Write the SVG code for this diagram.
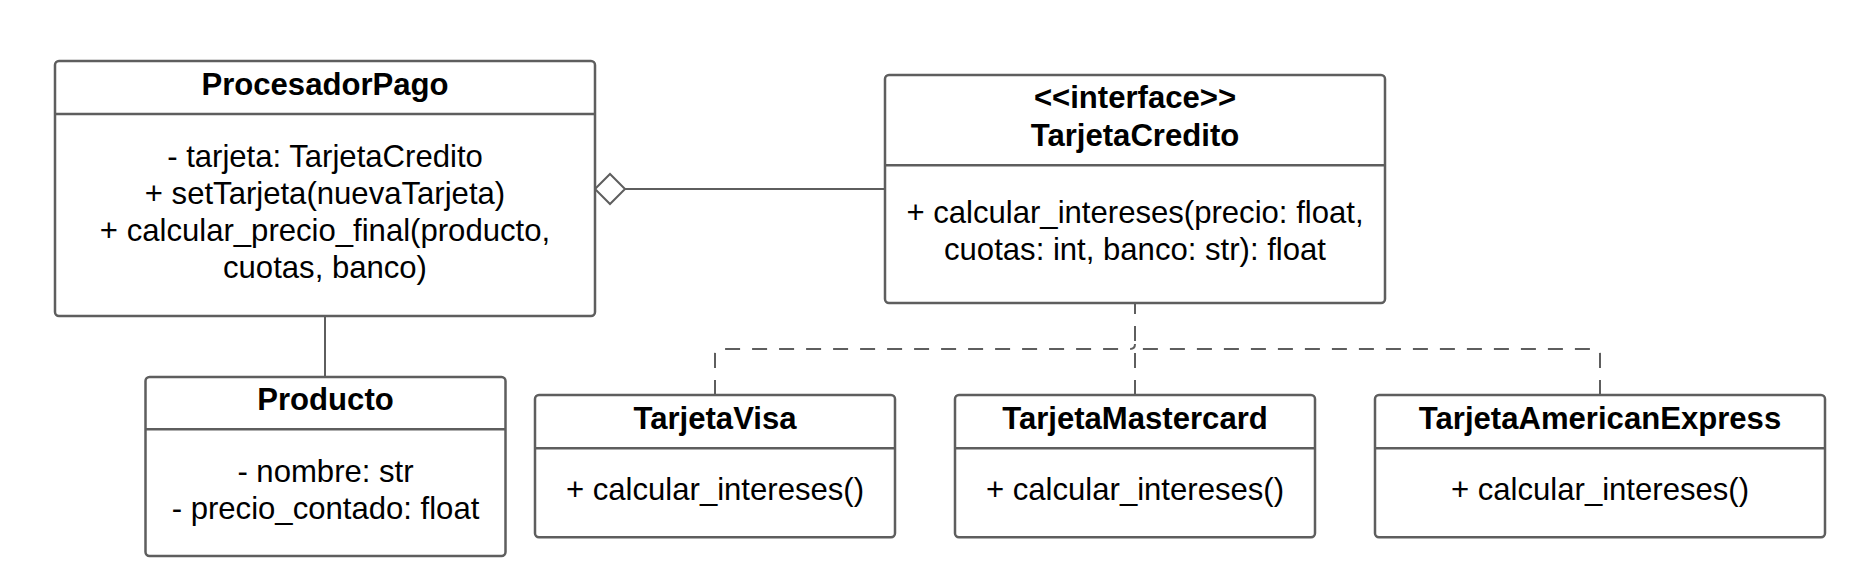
<svg xmlns="http://www.w3.org/2000/svg" width="1867" height="578" viewBox="0 0 1867 578">
<style>
.box{fill:#fff;stroke:#5e5e5e;stroke-width:2.5}
.div{stroke:#5e5e5e;stroke-width:2.5}
.t{font-family:"Liberation Sans",Arial,sans-serif;font-size:31.1px;fill:#000;text-anchor:middle}
.b{font-weight:bold}
.ln{fill:none;stroke:#5e5e5e;stroke-width:2}
.dash{fill:none;stroke:#5e5e5e;stroke-width:2;stroke-dasharray:15 12}
</style>
<rect width="1867" height="578" fill="#fff"/>
<g id="connectors">
<line class="ln" x1="325" y1="316" x2="325" y2="377"/>
<line class="ln" x1="625" y1="189" x2="885" y2="189"/>
<polygon class="ln" points="595,189 610,174 625,189 610,204" fill="#fff"/>
<path class="dash" d="M1135,395 V303"/>
<path class="dash" d="M715,395 V354 Q715,349 720,349 H1130 Q1135,349 1135,344"/>
<path class="dash" d="M1600,395 V354 Q1600,349 1595,349 H1140 Q1135,349 1135,344"/>
</g>
<g id="ProcesadorPago">
<rect class="box" x="55" y="61" width="540" height="255" rx="4"/>
<line class="div" x1="55" y1="114" x2="595" y2="114"/>
<text class="t b" x="325" y="94.5">ProcesadorPago</text>
<text class="t" x="325" y="166.5">- tarjeta: TarjetaCredito</text>
<text class="t" x="325" y="203.5">+ setTarjeta(nuevaTarjeta)</text>
<text class="t" x="325" y="240.5">+ calcular_precio_final(producto,</text>
<text class="t" x="325" y="277.5">cuotas, banco)</text>
</g>
<g id="TarjetaCredito">
<rect class="box" x="885" y="75" width="500" height="228" rx="4"/>
<line class="div" x1="885" y1="165.3" x2="1385" y2="165.3"/>
<text class="t b" x="1135" y="108">&lt;&lt;interface&gt;&gt;</text>
<text class="t b" x="1135" y="145.5">TarjetaCredito</text>
<text class="t" x="1135" y="222.5">+ calcular_intereses(precio: float,</text>
<text class="t" x="1135" y="259.5">cuotas: int, banco: str): float</text>
</g>
<g id="Producto">
<rect class="box" x="145.5" y="377" width="360" height="179" rx="4"/>
<line class="div" x1="145.5" y1="429.3" x2="505.5" y2="429.3"/>
<text class="t b" x="325.5" y="410">Producto</text>
<text class="t" x="325.5" y="481.7">- nombre: str</text>
<text class="t" x="325.5" y="519">- precio_contado: float</text>
</g>
<g id="TarjetaVisa">
<rect class="box" x="535" y="395" width="360" height="142.3" rx="4"/>
<line class="div" x1="535" y1="448.3" x2="895" y2="448.3"/>
<text class="t b" x="715" y="428.5">TarjetaVisa</text>
<text class="t" x="715" y="500">+ calcular_intereses()</text>
</g>
<g id="TarjetaMastercard">
<rect class="box" x="955" y="395" width="360" height="142.3" rx="4"/>
<line class="div" x1="955" y1="448.3" x2="1315" y2="448.3"/>
<text class="t b" x="1135" y="428.5">TarjetaMastercard</text>
<text class="t" x="1135" y="500">+ calcular_intereses()</text>
</g>
<g id="TarjetaAmericanExpress">
<rect class="box" x="1375" y="395" width="450" height="142.3" rx="4"/>
<line class="div" x1="1375" y1="448.3" x2="1825" y2="448.3"/>
<text class="t b" x="1600" y="428.5">TarjetaAmericanExpress</text>
<text class="t" x="1600" y="500">+ calcular_intereses()</text>
</g>
</svg>
